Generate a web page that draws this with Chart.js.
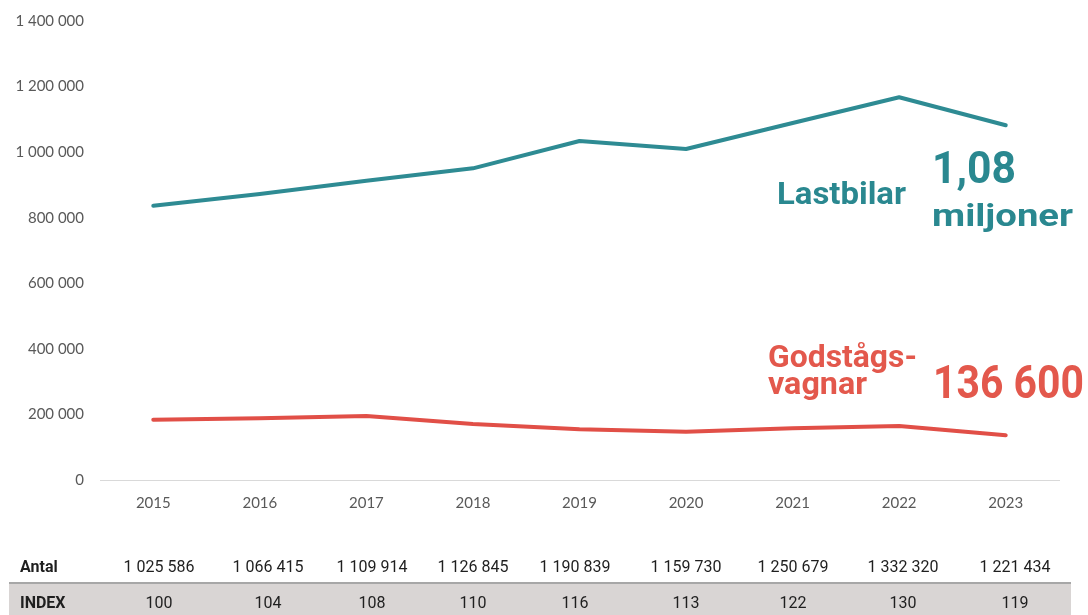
<!DOCTYPE html>
<html>
<head>
<meta charset="utf-8">
<script src="https://cdn.jsdelivr.net/npm/chart.js@4"></script>
<style>
html,body{margin:0;padding:0;background:#fff;}
#wrap{position:relative;width:1088px;height:615px;}
</style>
</head>
<body>
<div id="wrap"><canvas id="c" width="1088" height="615"></canvas></div>
<script>
const years = ['2015','2016','2017','2018','2019','2020','2021','2022','2023'];
const lastbilar = [836700, 872300, 912900, 950600, 1034000, 1009600, 1089000, 1167300, 1082000];
const godstagsvagnar = [184000, 188000, 195000, 171000, 155000, 147000, 158000, 165000, 136600];
const antal = ['1 025 586','1 066 415','1 109 914','1 126 845','1 190 839','1 159 730','1 250 679','1 332 320','1 221 434'];
const indexValues = ['100','104','108','110','116','113','122','130','119'];
const yTicks = [0, 200000, 400000, 600000, 800000, 1000000, 1200000, 1400000];

const TEAL = '#2e8b93';
const RED = '#e14f47';
const TEAL_TXT = '#2a8890';
const RED_TXT = '#e3584c';

function fmt(v){ return String(v).replace(/\B(?=(\d{3})+(?!\d))/g, ' '); }

function drawFit(ctx, text, x, y, size, width, color, weight){
  ctx.save();
  ctx.font = (weight||'bold') + ' ' + size + 'px Roboto';
  ctx.fillStyle = color;
  ctx.textBaseline = 'alphabetic';
  ctx.textAlign = 'left';
  const w = ctx.measureText(text).width;
  ctx.translate(x, y);
  ctx.scale(width / w, 1);
  ctx.fillText(text, 0, 0);
  ctx.restore();
}

const overlay = {
  id: 'overlay',
  afterDraw(chart){
    const ctx = chart.ctx;
    // annotations
    drawFit(ctx, 'Lastbilar', 777, 204, 31, 129, TEAL_TXT);
    drawFit(ctx, '1,08', 932, 183, 44, 84, TEAL_TXT);
    drawFit(ctx, 'miljoner', 932, 226, 32, 141, TEAL_TXT);
    drawFit(ctx, 'Godstågs-', 768, 367, 32, 149, RED_TXT);
    drawFit(ctx, 'vagnar', 768, 394, 32, 99, RED_TXT);
    drawFit(ctx, '136 600', 933, 398, 46, 151, RED_TXT);

    // table
    const colX = [159, 268, 372, 473, 575, 686, 793, 903, 1015];
    ctx.save();
    ctx.fillStyle = '#d9d5d4';
    ctx.fillRect(9, 584, 1062, 31);
    ctx.strokeStyle = '#8a8a8a';
    ctx.lineWidth = 1.5;
    ctx.beginPath();
    ctx.moveTo(9, 583);
    ctx.lineTo(1071, 583);
    ctx.stroke();

    ctx.fillStyle = '#1f1f1f';
    ctx.textBaseline = 'alphabetic';
    ctx.textAlign = 'left';
    ctx.font = 'bold 16px Roboto';
    ctx.fillText('Antal', 20, 572);
    ctx.fillText('INDEX', 20, 608);
    ctx.font = '16px Roboto';
    ctx.textAlign = 'center';
    for (let i = 0; i < years.length; i++){
      ctx.fillText(antal[i], colX[i], 572);
      ctx.fillText(indexValues[i], colX[i], 608);
    }
    ctx.restore();
  }
};

new Chart(document.getElementById('c'), {
  type: 'line',
  data: {
    labels: years,
    datasets: [
      { label: 'Lastbilar', data: lastbilar, borderColor: TEAL, backgroundColor: TEAL, borderWidth: 4, pointRadius: 0, tension: 0, borderCapStyle: 'round', borderJoinStyle: 'round' },
      { label: 'Godstågsvagnar', data: godstagsvagnar, borderColor: RED, backgroundColor: RED, borderWidth: 4, pointRadius: 0, tension: 0, borderCapStyle: 'round', borderJoinStyle: 'round' }
    ]
  },
  options: {
    responsive: false,
    animation: false,
    layout: { padding: { top: 21, right: 29, left: 0, bottom: 0 } },
    plugins: { legend: { display: false }, tooltip: { enabled: false } },
    scales: {
      x: {
        offset: true,
        grid: { display: false, drawTicks: false },
        border: { display: true, color: '#d9d9d9', width: 1 },
        ticks: { color: '#595959', font: { family: 'Lato', size: 15 }, padding: 14, maxRotation: 0 },
        afterFit(s){ s.height = 135; s.paddingLeft = 0; s.paddingRight = 0; }
      },
      y: {
        min: 0, max: 1400000,
        afterBuildTicks(s){ s.ticks = yTicks.map(v => ({ value: v })); },
        grid: { display: false, drawTicks: false },
        border: { display: false },
        ticks: { color: '#595959', font: { family: 'Lato', size: 15 }, padding: 16, callback: v => fmt(v) },
        afterFit(s){ s.width = 100; s.paddingTop = 0; s.paddingBottom = 0; }
      }
    }
  },
  plugins: [overlay]
});
</script>
</body>
</html>
